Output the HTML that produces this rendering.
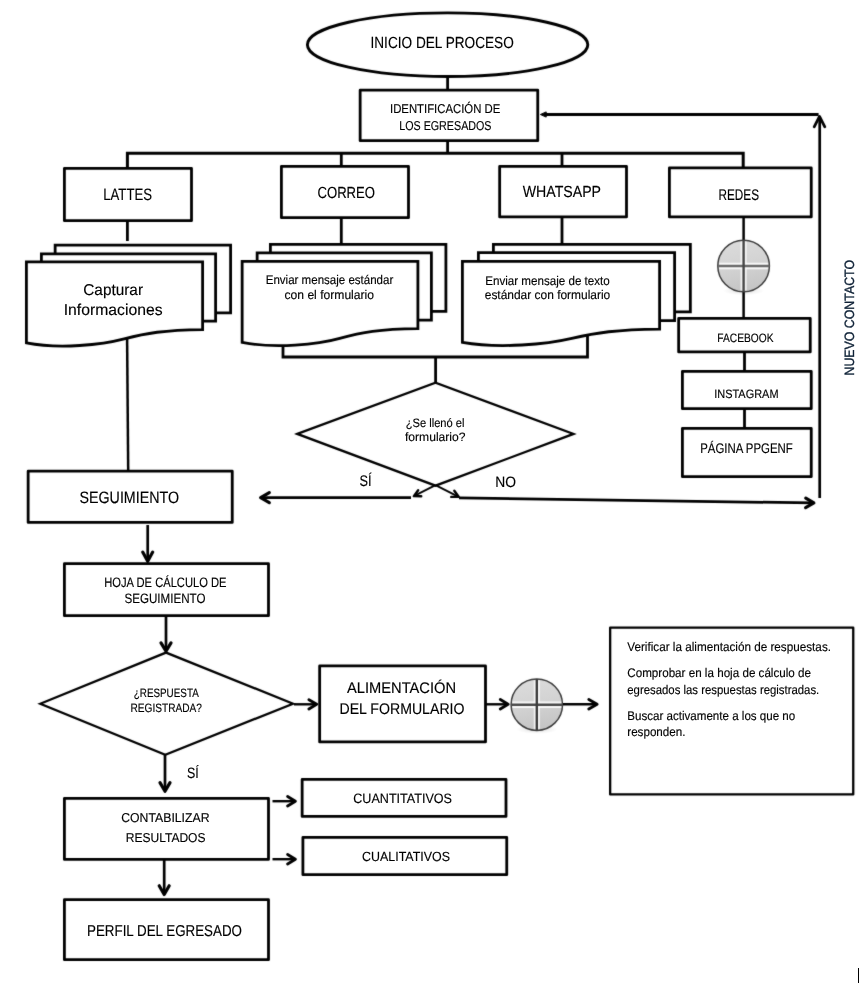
<!DOCTYPE html>
<html lang="es">
<head>
<meta charset="utf-8">
<title>Flujograma de seguimiento de egresados</title>
<style>
html,body{margin:0;padding:0;background:#fff;}
body{width:868px;height:983px;overflow:hidden;}
svg{display:block;font-family:"Liberation Sans",sans-serif;}
text{text-rendering:geometricPrecision;}
</style>
</head>
<body>
<svg width="868" height="983" viewBox="0 0 868 983">
<defs>
<linearGradient id="g1" x1="0" y1="0" x2="0.25" y2="1">
<stop offset="0" stop-color="#dddddd"/>
<stop offset="0.55" stop-color="#d3d3d3"/>
<stop offset="1" stop-color="#c6c6c6"/>
</linearGradient>
<radialGradient id="sh" cx="0.5" cy="0.5" r="0.5">
<stop offset="0" stop-color="#000" stop-opacity="0.12"/>
<stop offset="1" stop-color="#000" stop-opacity="0"/>
</radialGradient>
<filter id="soft" filterUnits="userSpaceOnUse" x="0" y="0" width="868" height="983" color-interpolation-filters="sRGB">
<feConvolveMatrix order="3" kernelMatrix="0.35 1 0.35 1 9.6 1 0.35 1 0.35" edgeMode="duplicate" preserveAlpha="false"/>
</filter>
<filter id="none" filterUnits="userSpaceOnUse" x="0" y="0" width="868" height="983" color-interpolation-filters="sRGB">
<feOffset dx="0" dy="0"/>
</filter>
</defs>
<rect width="868" height="983" fill="#fff"/>
<g filter="url(#soft)">
<line x1="447.6" y1="76" x2="447.6" y2="153" stroke="#000" stroke-width="2.8" stroke-linecap="butt"/>
<path d="M127.4,170 L127.4,153.3 L743.2,153.3 L743.2,170" fill="none" stroke="#000" stroke-width="3.0" stroke-linejoin="miter" stroke-linecap="butt"/>
<line x1="341.3" y1="153" x2="341.3" y2="166" stroke="#000" stroke-width="2.8" stroke-linecap="butt"/>
<line x1="562" y1="153" x2="562" y2="166" stroke="#000" stroke-width="2.8" stroke-linecap="butt"/>
<line x1="127.4" y1="220" x2="127.4" y2="241" stroke="#000" stroke-width="2.8" stroke-linecap="butt"/>
<line x1="341.3" y1="217" x2="341.3" y2="244" stroke="#000" stroke-width="2.8" stroke-linecap="butt"/>
<line x1="562" y1="217" x2="562" y2="244" stroke="#000" stroke-width="2.8" stroke-linecap="butt"/>
<line x1="127.1" y1="338" x2="128.2" y2="471" stroke="#000" stroke-width="2.5" stroke-linecap="butt"/>
<path d="M283,340 L283,357 L587.5,357 L587.5,332" fill="none" stroke="#000" stroke-width="2.8" stroke-linejoin="miter" stroke-linecap="butt"/>
<line x1="435.6" y1="356" x2="435.6" y2="384" stroke="#000" stroke-width="2.8" stroke-linecap="butt"/>
<line x1="743.6" y1="217" x2="743.6" y2="318" stroke="#000" stroke-width="2.5" stroke-linecap="butt"/>
<line x1="744.5" y1="352" x2="744.5" y2="371" stroke="#000" stroke-width="2.8" stroke-linecap="butt"/>
<line x1="744.5" y1="409" x2="744.5" y2="428" stroke="#000" stroke-width="2.8" stroke-linecap="butt"/>
<line x1="819.7" y1="498" x2="819.7" y2="117" stroke="#000" stroke-width="2.7" stroke-linecap="butt"/>
<path d="M814.2,126.8 L819.5,116.4 L824.8,126.8" fill="none" stroke="#000" stroke-width="2.8" stroke-linejoin="round" stroke-linecap="round"/>
<line x1="544" y1="114.5" x2="818.6" y2="114.5" stroke="#000" stroke-width="2.8" stroke-linecap="butt"/>
<path d="M540.4,114.5 L546.2,111.9 L546.2,117.1 Z" fill="#000" stroke="#000" stroke-width="1" stroke-linejoin="round"/>
<ellipse cx="447.6" cy="44.7" rx="140.2" ry="31.8" fill="#fff" stroke="#000" stroke-width="2.9"/>
<rect x="360.15" y="90.15" width="177.60" height="50.50" fill="#fff" stroke="#000" stroke-width="2.8" stroke-linejoin="round"/>
<rect x="64.40" y="168.40" width="127.10" height="52.25" fill="#fff" stroke="#000" stroke-width="2.8" stroke-linejoin="round"/>
<rect x="281.40" y="166.40" width="127.10" height="51.25" fill="#fff" stroke="#000" stroke-width="2.8" stroke-linejoin="round"/>
<rect x="499.65" y="166.40" width="126.85" height="50.50" fill="#fff" stroke="#000" stroke-width="2.8" stroke-linejoin="round"/>
<rect x="669.40" y="167.90" width="141.85" height="49.00" fill="#fff" stroke="#000" stroke-width="2.8" stroke-linejoin="round"/>
<rect x="678.65" y="318.40" width="131.60" height="33.50" fill="#fff" stroke="#000" stroke-width="2.8" stroke-linejoin="round"/>
<rect x="682.40" y="371.40" width="128.85" height="37.25" fill="#fff" stroke="#000" stroke-width="2.8" stroke-linejoin="round"/>
<rect x="682.40" y="428.40" width="128.85" height="48.25" fill="#fff" stroke="#000" stroke-width="2.8" stroke-linejoin="round"/>
<rect x="28.15" y="471.15" width="204.10" height="51.25" fill="#fff" stroke="#000" stroke-width="2.8" stroke-linejoin="round"/>
<rect x="64.40" y="563.65" width="204.10" height="52.00" fill="#fff" stroke="#000" stroke-width="2.8" stroke-linejoin="round"/>
<rect x="319.65" y="665.90" width="165.85" height="76.00" fill="#fff" stroke="#000" stroke-width="2.8" stroke-linejoin="round"/>
<rect x="302.15" y="779.40" width="203.85" height="37.00" fill="#fff" stroke="#000" stroke-width="2.8" stroke-linejoin="round"/>
<rect x="302.90" y="837.40" width="203.85" height="37.25" fill="#fff" stroke="#000" stroke-width="2.8" stroke-linejoin="round"/>
<rect x="64.40" y="798.40" width="204.10" height="61.00" fill="#fff" stroke="#000" stroke-width="2.8" stroke-linejoin="round"/>
<rect x="64.40" y="899.65" width="204.10" height="60.00" fill="#fff" stroke="#000" stroke-width="2.8" stroke-linejoin="round"/>
<rect x="610.15" y="627.65" width="243.10" height="166.75" fill="#fff" stroke="#000" stroke-width="2.3" stroke-linejoin="round"/>
<path d="M55.15,253.9 V245.15 H230.6 V312.8 H215.6" fill="#fff" stroke="#000" stroke-width="2.8" stroke-linejoin="miter"/>
<path d="M41.4,261.9 V253.9 H215.6 V321.20000000000005 H202.6" fill="#fff" stroke="#000" stroke-width="2.8" stroke-linejoin="miter"/>
<path d="M26.4,261.9 H202.6 V329.6 C163.8,330.1 146.2,333.1 124.2,338.9 S59.9,349.4 26.4,342.90000000000003 Z" fill="#fff" stroke="#000" stroke-width="2.8" stroke-linejoin="miter"/>
<path d="M270.4,252.9 V244.4 H445.90000000000003 V311.3 H431.40000000000003" fill="#fff" stroke="#000" stroke-width="2.8" stroke-linejoin="miter"/>
<path d="M257.15,261.4 V252.9 H431.40000000000003 V320.20000000000005 H417.90000000000003" fill="#fff" stroke="#000" stroke-width="2.8" stroke-linejoin="miter"/>
<path d="M242.15,261.4 H417.90000000000003 V328.6 C379.2,329.1 361.7,332.1 339.7,338.3 S275.5,348.9 242.15,342.40000000000003 Z" fill="#fff" stroke="#000" stroke-width="2.8" stroke-linejoin="miter"/>
<path d="M493.4,252.65 V244.4 H690.35 V311.8 H674.6" fill="#fff" stroke="#000" stroke-width="2.8" stroke-linejoin="miter"/>
<path d="M478.4,261.4 V252.65 H674.6 V320.70000000000005 H659.6" fill="#fff" stroke="#000" stroke-width="2.8" stroke-linejoin="miter"/>
<path d="M462.4,261.4 H659.6 V329.1 C616.2,329.6 596.5,332.6 571.8,338.4 S499.9,348.9 462.4,342.40000000000003 Z" fill="#fff" stroke="#000" stroke-width="2.8" stroke-linejoin="miter"/>
<path d="M297.3,433.9 L435.5,382.7 L573.5,433.9 L435.5,485.7 Z" fill="#fff" stroke="#000" stroke-width="2.3" stroke-linejoin="miter" stroke-linecap="butt"/>
<path d="M40.3,703.7 L166,652.6 L293,703.7 L165.3,754.8 Z" fill="#fff" stroke="#000" stroke-width="2.3" stroke-linejoin="miter" stroke-linecap="butt"/>
<ellipse cx="743.6" cy="290.8" rx="20.6" ry="4.5" fill="url(#sh)"/>
<circle cx="743.6" cy="266" r="25.8" fill="url(#g1)" stroke="#3c3c3c" stroke-width="1.5"/>
<line x1="719.0000000000001" y1="266" x2="768.1999999999999" y2="266" stroke="#fff" stroke-width="6.4" opacity=".85"/>
<line x1="743.6" y1="241.39999999999998" x2="743.6" y2="290.6" stroke="#fff" stroke-width="6" opacity=".8"/>
<line x1="717.8000000000001" y1="266" x2="769.4" y2="266" stroke="#6a6a6a" stroke-width="2.5"/>
<line x1="743.6" y1="240.2" x2="743.6" y2="291.8" stroke="#444" stroke-width="2.4"/>
<ellipse cx="536.8" cy="729.4000000000001" rx="20.6" ry="4.5" fill="url(#sh)"/>
<circle cx="536.8" cy="704.7" r="25.7" fill="url(#g1)" stroke="#3c3c3c" stroke-width="1.5"/>
<line x1="512.3" y1="704.7" x2="561.3" y2="704.7" stroke="#fff" stroke-width="6.4" opacity=".85"/>
<line x1="536.8" y1="680.2" x2="536.8" y2="729.2" stroke="#fff" stroke-width="6" opacity=".8"/>
<line x1="511.09999999999997" y1="704.7" x2="562.5" y2="704.7" stroke="#484848" stroke-width="2.5"/>
<line x1="536.8" y1="679.0" x2="536.8" y2="730.4000000000001" stroke="#3a3a3a" stroke-width="2.4"/>
<line x1="411" y1="497.6" x2="261.15" y2="497.6" stroke="#000" stroke-width="2.7" stroke-linecap="butt"/>
<path d="M269.3,492.6 L260.65,497.6 L269.3,502.6" fill="none" stroke="#000" stroke-width="3.2" stroke-linejoin="round" stroke-linecap="round"/>
<line x1="435.5" y1="485.2" x2="414.29" y2="495.94" stroke="#000" stroke-width="1.9" stroke-linecap="butt"/>
<path d="M418.15,490.18 L413.85,496.17 L421.23,496.24" fill="none" stroke="#000" stroke-width="2.4" stroke-linejoin="round" stroke-linecap="round"/>
<line x1="435.5" y1="485.2" x2="458.2" y2="496.55" stroke="#000" stroke-width="1.9" stroke-linecap="butt"/>
<path d="M451.27,496.89 L458.65,496.78 L454.31,490.8" fill="none" stroke="#000" stroke-width="2.4" stroke-linejoin="round" stroke-linecap="round"/>
<line x1="459" y1="497.9" x2="813.35" y2="502.97" stroke="#000" stroke-width="2.7" stroke-linecap="butt"/>
<path d="M805.63,507.66 L813.85,502.98 L805.77,498.06" fill="none" stroke="#000" stroke-width="3.2" stroke-linejoin="round" stroke-linecap="round"/>
<line x1="147.7" y1="525" x2="147.7" y2="560.75" stroke="#000" stroke-width="2.7" stroke-linecap="butt"/>
<path d="M142.7,552.1 L147.7,561.25 L152.7,552.1" fill="none" stroke="#000" stroke-width="3.2" stroke-linejoin="round" stroke-linecap="round"/>
<line x1="166" y1="616" x2="166.0" y2="650.55" stroke="#000" stroke-width="2.7" stroke-linecap="butt"/>
<path d="M161.0,642.9 L166.0,651.05 L171.0,642.9" fill="none" stroke="#000" stroke-width="3.2" stroke-linejoin="round" stroke-linecap="round"/>
<line x1="165" y1="755" x2="165.0" y2="790.75" stroke="#000" stroke-width="2.7" stroke-linecap="butt"/>
<path d="M160.0,782.6 L165.0,791.25 L170.0,782.6" fill="none" stroke="#000" stroke-width="3.2" stroke-linejoin="round" stroke-linecap="round"/>
<line x1="164.2" y1="860" x2="164.2" y2="893.95" stroke="#000" stroke-width="2.7" stroke-linecap="butt"/>
<path d="M159.2,885.8 L164.2,894.45 L169.2,885.8" fill="none" stroke="#000" stroke-width="3.2" stroke-linejoin="round" stroke-linecap="round"/>
<line x1="294" y1="704.3" x2="316.2" y2="704.3" stroke="#000" stroke-width="2.4" stroke-linecap="butt"/>
<path d="M308.9,708.9 L316.7,704.3 L308.9,699.7" fill="none" stroke="#000" stroke-width="2.9" stroke-linejoin="round" stroke-linecap="round"/>
<line x1="486" y1="704.3" x2="507.6" y2="704.3" stroke="#000" stroke-width="2.4" stroke-linecap="butt"/>
<path d="M500.3,709.0 L508.1,704.3 L500.3,699.6" fill="none" stroke="#000" stroke-width="2.9" stroke-linejoin="round" stroke-linecap="round"/>
<line x1="563" y1="704.3" x2="596.6" y2="704.3" stroke="#000" stroke-width="2.4" stroke-linecap="butt"/>
<path d="M588.8,709.1 L597.1,704.3 L588.8,699.5" fill="none" stroke="#000" stroke-width="2.9" stroke-linejoin="round" stroke-linecap="round"/>
<line x1="272.5" y1="801.2" x2="294.9" y2="801.2" stroke="#000" stroke-width="2.4" stroke-linecap="butt"/>
<path d="M287.6,805.9 L295.4,801.2 L287.6,796.5" fill="none" stroke="#000" stroke-width="2.9" stroke-linejoin="round" stroke-linecap="round"/>
<line x1="272.5" y1="859.2" x2="294.9" y2="859.2" stroke="#000" stroke-width="2.4" stroke-linecap="butt"/>
<path d="M287.6,863.9 L295.4,859.2 L287.6,854.5" fill="none" stroke="#000" stroke-width="2.9" stroke-linejoin="round" stroke-linecap="round"/>
</g>
<g filter="url(#none)">
<rect x="858" y="968" width="1" height="15" fill="#000" shape-rendering="crispEdges"/>
<text x="370.50" y="47.85" font-size="16.13" textLength="143.25" lengthAdjust="spacingAndGlyphs" fill="#000" stroke="#000" stroke-width="0.15">INICIO DEL PROCESO</text>
<text x="390.00" y="112.85" font-size="12.86" textLength="110.25" lengthAdjust="spacingAndGlyphs" fill="#000" stroke="#000" stroke-width="0.15">IDENTIFICACIÓN DE</text>
<text x="399.25" y="129.85" font-size="12.86" textLength="92.25" lengthAdjust="spacingAndGlyphs" fill="#000" stroke="#000" stroke-width="0.15">LOS EGRESADOS</text>
<text x="103.25" y="200.25" font-size="16.50" textLength="48.75" lengthAdjust="spacingAndGlyphs" fill="#000" stroke="#000" stroke-width="0.15">LATTES</text>
<text x="317.50" y="198.05" font-size="16.13" textLength="57.50" lengthAdjust="spacingAndGlyphs" fill="#000" stroke="#000" stroke-width="0.15">CORREO</text>
<text x="522.75" y="196.95" font-size="16.13" textLength="78.25" lengthAdjust="spacingAndGlyphs" fill="#000" stroke="#000" stroke-width="0.15">WHATSAPP</text>
<text x="718.50" y="199.95" font-size="15.41" textLength="40.50" lengthAdjust="spacingAndGlyphs" fill="#000" stroke="#000" stroke-width="0.15">REDES</text>
<text x="83.25" y="294.95" font-size="15.77" textLength="59.75" lengthAdjust="spacingAndGlyphs" fill="#000" stroke="#000" stroke-width="0.15">Capturar</text>
<text x="63.75" y="315.45" font-size="15.77" textLength="98.75" lengthAdjust="spacingAndGlyphs" fill="#000" stroke="#000" stroke-width="0.15">Informaciones</text>
<text x="265.75" y="284.15" font-size="12.50" textLength="127.50" lengthAdjust="spacingAndGlyphs" fill="#000" stroke="#000" stroke-width="0.15">Enviar mensaje estándar</text>
<text x="284.50" y="298.65" font-size="12.50" textLength="89.50" lengthAdjust="spacingAndGlyphs" fill="#000" stroke="#000" stroke-width="0.15">con el formulario</text>
<text x="485.25" y="284.95" font-size="12.50" textLength="124.50" lengthAdjust="spacingAndGlyphs" fill="#000" stroke="#000" stroke-width="0.15">Enviar mensaje de texto</text>
<text x="484.75" y="299.45" font-size="12.50" textLength="125.50" lengthAdjust="spacingAndGlyphs" fill="#000" stroke="#000" stroke-width="0.15">estándar con formulario</text>
<text x="717.25" y="341.95" font-size="12.14" textLength="56.25" lengthAdjust="spacingAndGlyphs" fill="#000" stroke="#000" stroke-width="0.15">FACEBOOK</text>
<text x="714.25" y="397.95" font-size="12.14" textLength="64.25" lengthAdjust="spacingAndGlyphs" fill="#000" stroke="#000" stroke-width="0.15">INSTAGRAM</text>
<text x="700.25" y="452.65" font-size="13.95" textLength="92.50" lengthAdjust="spacingAndGlyphs" fill="#000" stroke="#000" stroke-width="0.15">PÁGINA PPGENF</text>
<text x="405.75" y="426.65" font-size="12.21" textLength="58.75" lengthAdjust="spacingAndGlyphs" fill="#000" stroke="#000" stroke-width="0.15">¿Se llenó el</text>
<text x="405.00" y="441.45" font-size="12.21" textLength="60.50" lengthAdjust="spacingAndGlyphs" fill="#000" stroke="#000" stroke-width="0.15">formulario?</text>
<text x="359.50" y="485.95" font-size="15.41" textLength="12.00" lengthAdjust="spacingAndGlyphs" fill="#000" stroke="#000" stroke-width="0.15">SÍ</text>
<text x="495.25" y="486.65" font-size="15.04" textLength="20.75" lengthAdjust="spacingAndGlyphs" fill="#000" stroke="#000" stroke-width="0.15">NO</text>
<text x="79.50" y="502.95" font-size="16.50" textLength="99.50" lengthAdjust="spacingAndGlyphs" fill="#000" stroke="#000" stroke-width="0.15">SEGUIMIENTO</text>
<text x="104.25" y="587.15" font-size="13.59" textLength="122.25" lengthAdjust="spacingAndGlyphs" fill="#000" stroke="#000" stroke-width="0.15">HOJA DE CÁLCULO DE</text>
<text x="124.50" y="603.45" font-size="13.59" textLength="81.00" lengthAdjust="spacingAndGlyphs" fill="#000" stroke="#000" stroke-width="0.15">SEGUIMIENTO</text>
<text x="133.75" y="696.95" font-size="12.14" textLength="65.00" lengthAdjust="spacingAndGlyphs" fill="#000" stroke="#000" stroke-width="0.15">¿RESPUESTA</text>
<text x="130.50" y="711.65" font-size="12.14" textLength="71.50" lengthAdjust="spacingAndGlyphs" fill="#000" stroke="#000" stroke-width="0.15">REGISTRADA?</text>
<text x="187.00" y="778.15" font-size="15.04" textLength="11.75" lengthAdjust="spacingAndGlyphs" fill="#000" stroke="#000" stroke-width="0.15">SÍ</text>
<text x="347.00" y="692.95" font-size="15.41" textLength="109.00" lengthAdjust="spacingAndGlyphs" fill="#000" stroke="#000" stroke-width="0.15">ALIMENTACIÓN</text>
<text x="339.50" y="713.65" font-size="15.41" textLength="125.00" lengthAdjust="spacingAndGlyphs" fill="#000" stroke="#000" stroke-width="0.15">DEL FORMULARIO</text>
<text x="353.25" y="803.15" font-size="13.59" textLength="98.75" lengthAdjust="spacingAndGlyphs" fill="#000" stroke="#000" stroke-width="0.15">CUANTITATIVOS</text>
<text x="362.00" y="860.65" font-size="13.23" textLength="88.00" lengthAdjust="spacingAndGlyphs" fill="#000" stroke="#000" stroke-width="0.15">CUALITATIVOS</text>
<text x="121.25" y="822.45" font-size="12.86" textLength="88.25" lengthAdjust="spacingAndGlyphs" fill="#000" stroke="#000" stroke-width="0.15">CONTABILIZAR</text>
<text x="125.75" y="841.65" font-size="12.86" textLength="79.75" lengthAdjust="spacingAndGlyphs" fill="#000" stroke="#000" stroke-width="0.15">RESULTADOS</text>
<text x="87.00" y="935.65" font-size="15.77" textLength="155.00" lengthAdjust="spacingAndGlyphs" fill="#000" stroke="#000" stroke-width="0.15">PERFIL DEL EGRESADO</text>
<text x="627.25" y="650.65" font-size="12.50" textLength="203.75" lengthAdjust="spacingAndGlyphs" fill="#000" stroke="#000" stroke-width="0.15">Verificar la alimentación de respuestas.</text>
<text x="627.25" y="676.65" font-size="12.50" textLength="183.75" lengthAdjust="spacingAndGlyphs" fill="#000" stroke="#000" stroke-width="0.15">Comprobar en la hoja de cálculo de</text>
<text x="627.25" y="693.75" font-size="12.50" textLength="192.00" lengthAdjust="spacingAndGlyphs" fill="#000" stroke="#000" stroke-width="0.15">egresados las respuestas registradas.</text>
<text x="627.25" y="720.25" font-size="12.50" textLength="168.00" lengthAdjust="spacingAndGlyphs" fill="#000" stroke="#000" stroke-width="0.15">Buscar activamente a los que no</text>
<text x="627.25" y="736.25" font-size="12.50" textLength="58.25" lengthAdjust="spacingAndGlyphs" fill="#000" stroke="#000" stroke-width="0.15">responden.</text>
<text transform="translate(854,375.5) rotate(-90)" font-size="13.52" textLength="115.5" lengthAdjust="spacingAndGlyphs" fill="#0e2136" stroke="#0e2136" stroke-width="0.35">NUEVO CONTACTO</text>
</g>
</svg>
</body>
</html>
